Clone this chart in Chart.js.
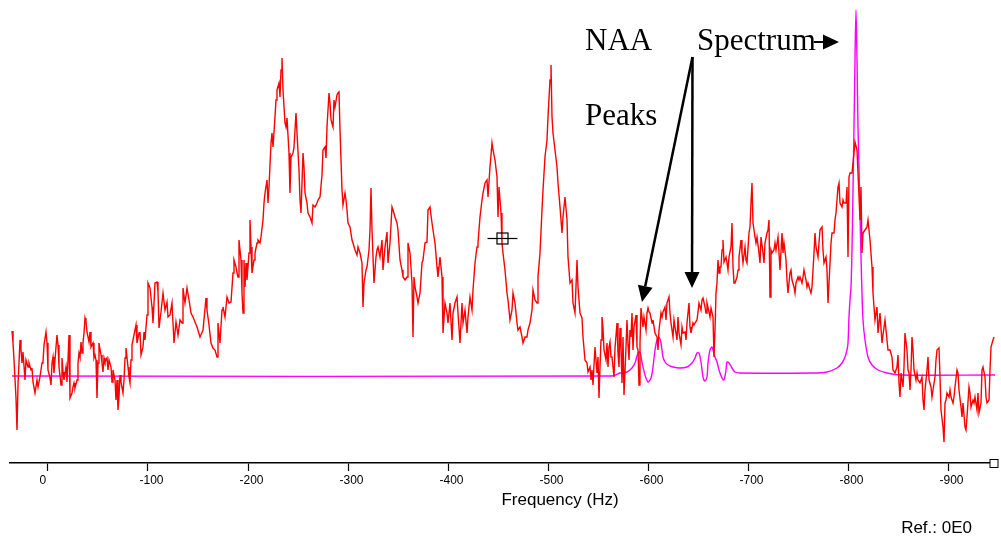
<!DOCTYPE html>
<html>
<head>
<meta charset="utf-8">
<script src="https://cdn.jsdelivr.net/npm/chart.js@4.4.1/dist/chart.umd.min.js"></script>
<style>
  html, body { margin: 0; padding: 0; background: #fff; }
  canvas { display: block; }
</style>
</head>
<body>
<canvas id="spec" width="1001" height="537"></canvas>
<script>
// frequency ticks (Hz)
const tickHz = [0, -100, -200, -300, -400, -500, -600, -700, -800, -900]

// measured spectrum, [Hz, amplitude]
const redSpectrum = [
  [36,132],[35,120],[34,103],[32,65],[31,33],[30,78],[28,123],[27,113],[26,100],[25,111],
  [23,83],[22,103],[20,96],[19,100],[17,93],[16,95],[15,81],[13,70],[11,83],[10,76],
  [8,86],[6,100],[5,101],[4,118],[2,131],[1,120],[0,93],[-2,85],[-3,78],[-4,100],
  [-5,106],[-6,90],[-8,116],[-9,128],[-10,118],[-11,96],[-13,78],[-14,105],[-15,91],[-16,83],
  [-18,96],[-19,81],[-20,103],[-21,128],[-22,65],[-24,70],[-25,76],[-26,80],[-27,75],[-29,83],
  [-30,100],[-31,110],[-32,106],[-33,121],[-34,110],[-35,120],[-36,130],[-37,145],[-38,141],[-39,131],
  [-41,121],[-42,131],[-43,116],[-45,120],[-46,105],[-47,108],[-48,103],[-49,65],[-50,100],[-51,120],
  [-53,108],[-54,100],[-55,91],[-56,105],[-57,101],[-59,105],[-60,93],[-61,103],[-63,96],[-64,81],
  [-65,93],[-67,83],[-68,63],[-69,83],[-70,53],[-71,66],[-72,88],[-73,81],[-75,70],[-76,83],
  [-77,105],[-78,115],[-80,96],[-81,86],[-82,80],[-83,103],[-84,118],[-85,123],[-87,133],[-88,138],
  [-89,120],[-91,130],[-92,131],[-93,108],[-95,116],[-96,131],[-97,123],[-99,148],[-100,180],[-102,175],
  [-104,156],[-105,140],[-107,180],[-109,181],[-110,171],[-111,135],[-113,151],[-115,170],[-117,153],[-119,161],
  [-120,146],[-122,148],[-124,160],[-126,120],[-128,141],[-130,128],[-132,143],[-134,140],[-135,175],[-137,160],
  [-139,175],[-141,163],[-143,150],[-145,146],[-149,136],[-152,126],[-155,133],[-158,165],[-159,153],[-161,138],
  [-163,120],[-165,115],[-167,113],[-169,106],[-170,140],[-172,120],[-174,153],[-175,156],[-177,146],[-179,166],
  [-181,160],[-183,161],[-185,190],[-186,203],[-188,196],[-189,190],[-190,186],[-191,223],[-193,203],[-194,170],
  [-195,150],[-196,203],[-197,176],[-198,200],[-199,183],[-201,210],[-202,243],[-203,216],[-204,190],[-206,203],
  [-207,210],[-209,220],[-210,223],[-212,220],[-213,226],[-215,243],[-216,260],[-217,270],[-219,283],[-220,260],
  [-221,276],[-223,320],[-224,330],[-225,316],[-227,346],[-228,363],[-229,373],[-231,380],[-232,366],[-233,393],
  [-234,405],[-235,373],[-237,340],[-238,336],[-239,345],[-241,310],[-242,270],[-243,306],[-245,310],[-246,316],
  [-247,333],[-248,350],[-249,330],[-251,293],[-252,263],[-253,250],[-255,310],[-256,296],[-257,270],[-259,260],
  [-260,250],[-262,246],[-264,240],[-265,258],[-267,256],[-269,260],[-270,263],[-272,266],[-274,288],[-275,313],
  [-277,316],[-278,305],[-279,336],[-281,370],[-282,360],[-283,343],[-285,336],[-286,363],[-287,356],[-289,368],
  [-290,370],[-291,371],[-292,333],[-293,333],[-294,273],[-295,258],[-297,270],[-298,263],[-299,253],[-300,240],
  [-302,236],[-304,223],[-305,220],[-307,213],[-309,208],[-310,216],[-312,210],[-314,200],[-315,156],[-316,180],
  [-318,193],[-319,196],[-321,213],[-322,233],[-323,275],[-324,233],[-325,206],[-326,180],[-328,206],[-329,213],
  [-330,216],[-332,206],[-334,223],[-335,193],[-337,216],[-339,231],[-340,200],[-342,220],[-344,256],[-345,253],
  [-347,246],[-349,240],[-350,233],[-352,203],[-354,193],[-355,186],[-357,183],[-359,186],[-360,220],[-362,210],
  [-364,180],[-365,126],[-366,186],[-367,176],[-369,166],[-370,160],[-372,170],[-374,200],[-375,203],[-377,220],
  [-379,221],[-380,253],[-382,256],[-384,240],[-385,233],[-387,220],[-389,196],[-390,186],[-392,206],[-394,186],
  [-395,130],[-397,160],[-399,150],[-400,140],[-402,160],[-404,123],[-405,150],[-407,160],[-409,166],[-410,150],
  [-412,120],[-414,160],[-415,140],[-417,153],[-419,130],[-420,146],[-422,166],[-424,153],[-425,173],[-427,200],
  [-429,216],[-430,220],[-432,246],[-434,263],[-435,270],[-437,280],[-439,283],[-440,266],[-442,296],[-444,320],
  [-445,313],[-447,303],[-449,286],[-450,246],[-451,276],[-453,250],[-454,220],[-455,210],[-457,193],[-459,170],
  [-460,163],[-462,143],[-464,153],[-465,170],[-467,160],[-469,140],[-470,133],[-472,136],[-474,126],[-475,120],
  [-477,126],[-479,126],[-480,133],[-482,140],[-484,153],[-485,173],[-487,163],[-489,160],[-490,186],[-492,210],
  [-494,253],[-495,273],[-497,306],[-499,323],[-500,346],[-502,383],[-503,398],[-504,346],[-505,330],[-507,313],
  [-509,296],[-510,280],[-512,256],[-514,230],[-515,246],[-517,266],[-519,243],[-520,206],[-522,180],[-524,183],
  [-525,160],[-527,150],[-529,203],[-530,176],[-532,150],[-534,145],[-535,126],[-537,103],[-539,100],[-540,91],
  [-542,96],[-543,83],[-544,93],[-545,78],[-546,98],[-547,116],[-549,90],[-550,106],[-551,65],[-552,96],
  [-553,123],[-554,146],[-555,135],[-556,113],[-558,103],[-559,120],[-560,96],[-561,116],[-562,121],[-563,106],
  [-564,106],[-565,96],[-566,86],[-567,115],[-569,140],[-570,110],[-571,96],[-572,135],[-573,116],[-574,80],
  [-575,126],[-576,68],[-578,116],[-579,143],[-580,120],[-581,103],[-582,133],[-583,126],[-584,150],[-585,113],
  [-586,136],[-588,148],[-589,116],[-590,113],[-591,78],[-592,120],[-593,155],[-594,146],[-595,136],[-596,146],
  [-598,133],[-599,150],[-600,155],[-601,151],[-602,150],[-604,140],[-605,143],[-607,130],[-609,126],[-610,113],
  [-611,133],[-613,150],[-614,146],[-615,151],[-617,156],[-618,143],[-619,160],[-621,166],[-622,150],[-623,140],
  [-625,126],[-626,143],[-627,136],[-629,123],[-630,146],[-631,130],[-633,118],[-634,136],[-635,130],[-637,131],
  [-638,123],[-639,140],[-641,160],[-642,136],[-643,130],[-645,140],[-646,138],[-647,140],[-649,143],[-650,151],
  [-651,160],[-653,153],[-654,163],[-655,165],[-657,156],[-658,150],[-659,160],[-661,151],[-662,146],[-663,155],
  [-665,146],[-666,106],[-667,133],[-668,170],[-669,180],[-670,203],[-671,190],[-672,196],[-673,196],[-674,213],
  [-675,223],[-676,201],[-678,206],[-679,200],[-680,193],[-681,206],[-683,216],[-684,240],[-685,196],[-686,180],
  [-687,180],[-689,186],[-690,193],[-691,206],[-693,223],[-694,210],[-695,200],[-697,216],[-698,203],[-699,200],
  [-701,230],[-702,236],[-703,260],[-704,280],[-705,240],[-707,226],[-708,220],[-709,226],[-711,210],[-712,200],
  [-713,226],[-715,210],[-716,200],[-717,220],[-719,230],[-720,233],[-721,243],[-722,166],[-723,213],[-724,210],
  [-726,213],[-727,220],[-728,213],[-730,226],[-731,210],[-732,193],[-734,230],[-735,210],[-736,220],[-738,203],
  [-739,183],[-740,170],[-742,190],[-743,193],[-744,183],[-746,176],[-747,170],[-748,180],[-750,186],[-751,183],
  [-752,186],[-754,180],[-755,186],[-756,193],[-758,183],[-759,176],[-760,180],[-762,173],[-763,170],[-764,176],
  [-766,210],[-767,230],[-768,216],[-770,206],[-771,220],[-772,233],[-774,236],[-775,213],[-776,200],[-778,206],
  [-779,193],[-780,160],[-782,200],[-783,220],[-784,230],[-786,230],[-787,243],[-788,250],[-790,276],[-791,280],
  [-792,260],[-794,256],[-795,263],[-796,260],[-798,260],[-799,276],[-800,206],[-801,286],[-802,290],[-804,290],
  [-805,300],[-807,321],[-809,313],[-810,290],[-812,243],[-813,276],[-814,210],[-815,230],[-817,233],[-819,236],
  [-820,243],[-822,223],[-824,196],[-825,170],[-827,143],[-829,156],[-830,130],[-832,150],[-834,120],[-835,128],
  [-837,143],[-839,123],[-840,113],[-842,113],[-844,106],[-845,93],[-847,90],[-849,96],[-850,108],[-851,80],
  [-852,66],[-853,90],[-854,83],[-855,76],[-856,96],[-857,130],[-859,113],[-860,93],[-861,90],[-862,73],
  [-863,93],[-864,126],[-865,113],[-866,93],[-868,83],[-869,90],[-870,83],[-872,80],[-874,86],[-875,63],
  [-876,53],[-877,73],[-879,93],[-880,106],[-881,83],[-883,76],[-884,66],[-885,73],[-887,86],[-888,103],
  [-889,113],[-891,115],[-892,86],[-893,53],[-895,36],[-896,21],[-897,60],[-898,63],[-899,70],[-901,66],
  [-902,73],[-903,66],[-905,60],[-906,66],[-907,76],[-909,93],[-910,90],[-911,73],[-913,56],[-914,46],
  [-915,60],[-917,36],[-918,33],[-919,46],[-921,76],[-922,70],[-923,56],[-925,63],[-926,60],[-927,66],
  [-929,53],[-930,70],[-931,50],[-933,60],[-934,93],[-935,96],[-937,86],[-938,66],[-939,60],[-941,63],
  [-942,93],[-943,116],[-945,123],[-946,126]
]

// fitted NAA / spectrum model, [Hz, amplitude]
const fitCurve = [
  [36,87],[-564,87],[-572,90],[-579,91],[-584,95],[-587,100],[-590,110],[-592,111],[-594,101],[-597,88],
  [-600,81],[-603,85],[-605,96],[-607,113],[-609,123],[-611,126],[-613,120],[-615,106],[-617,101],[-620,98],
  [-625,96],[-632,95],[-639,96],[-644,100],[-647,105],[-649,110],[-651,110],[-653,101],[-655,86],[-657,82],
  [-659,86],[-660,100],[-662,113],[-664,116],[-665,113],[-667,106],[-669,101],[-671,93],[-674,85],[-676,83],
  [-678,93],[-679,101],[-681,100],[-684,95],[-687,91],[-692,90],[-765,90],[-779,91],[-789,95],[-794,100],
  [-797,106],[-799,113],[-800,120],[-801,146],[-802,163],[-803,176],[-804,213],[-805,273],[-806,336],[-807,403],
  [-808,453],[-809,403],[-810,336],[-811,296],[-812,250],[-813,206],[-814,170],[-815,143],[-817,123],[-820,106],
  [-824,98],[-830,93],[-839,90],[-852,88],[-947,88]
]

// annotation anchors, [Hz, amplitude]
const naaArrowTips = [[-594, 161], [-644, 175]]
const arrowApex = [-644.5, 406]
const cursorMark = [-454, 225]

function toXY(rows) {
  return rows.map(r => ({ x: r[0], y: r[1] }))
}

function arrow(ctx, x1, y1, x2, y2) {
  const a = Math.atan2(y2 - y1, x2 - x1)
  const len = 16, half = 7.5
  const bx = x2 - len * Math.cos(a), by = y2 - len * Math.sin(a)
  ctx.beginPath()
  ctx.moveTo(x1, y1)
  ctx.lineTo(bx, by)
  ctx.stroke()
  ctx.beginPath()
  ctx.moveTo(x2, y2)
  ctx.lineTo(bx + half * Math.sin(a), by - half * Math.cos(a))
  ctx.lineTo(bx - half * Math.sin(a), by + half * Math.cos(a))
  ctx.closePath()
  ctx.fill()
}

const overlay = {
  id: 'overlay',
  afterDraw(chart) {
    const { ctx, chartArea } = chart
    const xs = chart.scales.x, ys = chart.scales.y
    ctx.save()
    ctx.strokeStyle = '#000'
    ctx.fillStyle = '#000'

    // cursor marker on the trace
    const cx = Math.round(xs.getPixelForValue(cursorMark[0])) + 0.5
    const cy = Math.round(ys.getPixelForValue(cursorMark[1])) + 0.5
    ctx.lineWidth = 1.2
    ctx.beginPath()
    ctx.moveTo(cx - 15, cy)
    ctx.lineTo(cx + 15, cy)
    ctx.stroke()
    ctx.strokeRect(cx - 5.5, cy - 5.5, 11, 11)

    // little box at the end of the axis
    const ex = chartArea.right - 1, ey = chartArea.bottom + 0.5
    ctx.lineWidth = 1
    ctx.fillStyle = '#fff'
    ctx.fillRect(ex - 4, ey - 4, 8, 8)
    ctx.strokeRect(ex - 4, ey - 4, 8, 8)
    ctx.fillStyle = '#000'

    // annotations
    ctx.font = '31px "Liberation Serif", serif'
    ctx.textBaseline = 'alphabetic'
    ctx.textAlign = 'left'
    ctx.fillText('NAA', 585, 50)
    ctx.fillText('Peaks', 585, 125)
    ctx.fillText('Spectrum', 697, 50)
    const sw = ctx.measureText('Spectrum').width
    ctx.lineWidth = 2
    arrow(ctx, 697 + sw - 2, 42, 839, 42)

    const ax = xs.getPixelForValue(arrowApex[0]), ay = ys.getPixelForValue(arrowApex[1])
    ctx.lineWidth = 2.5
    naaArrowTips.forEach(t => {
      arrow(ctx, ax, ay, xs.getPixelForValue(t[0]), ys.getPixelForValue(t[1]))
    })

    // axis title and reference note
    ctx.font = '17px "Liberation Sans", Arial, sans-serif'
    ctx.textAlign = 'center'
    ctx.fillText('Frequency (Hz)', 560, 505)
    ctx.textAlign = 'right'
    ctx.fillText('Ref.: 0E0', 972, 533)
    ctx.restore()
  }
}

new Chart(document.getElementById('spec'), {
  type: 'line',
  data: {
    datasets: [
      {
        label: 'Spectrum',
        data: toXY(redSpectrum),
        borderColor: '#ff0000',
        borderWidth: 1.4,
        pointRadius: 0,
        tension: 0
      },
      {
        label: 'Fit',
        data: toXY(fitCurve),
        borderColor: '#ff00ff',
        borderWidth: 1.4,
        pointRadius: 0,
        tension: 0.3
      }
    ]
  },
  options: {
    responsive: false,
    animation: false,
    devicePixelRatio: 1,
    layout: { padding: { left: 10, right: 6, top: 0, bottom: 0 } },
    plugins: {
      legend: { display: false },
      tooltip: { enabled: false }
    },
    scales: {
      x: {
        type: 'linear',
        reverse: true,
        min: -947,
        max: 38,
        afterBuildTicks: s => { s.ticks = tickHz.map(v => ({ value: v })) },
        afterFit: s => { s.height = 74 },
        border: { display: true, color: '#000', width: 1.5 },
        grid: {
          drawOnChartArea: false,
          drawTicks: true,
          tickLength: 8,
          tickColor: '#000',
          tickWidth: 1.2
        },
        ticks: {
          color: '#000',
          font: { family: '"Liberation Sans", Arial, sans-serif', size: 12 },
          align: 'start',
          labelOffset: -8.5,
          padding: 2,
          maxRotation: 0,
          autoSkip: false,
          callback: v => String(v)
        }
      },
      y: {
        display: false,
        min: 0,
        max: 463
      }
    }
  },
  plugins: [overlay]
})
</script>
</body>
</html>
